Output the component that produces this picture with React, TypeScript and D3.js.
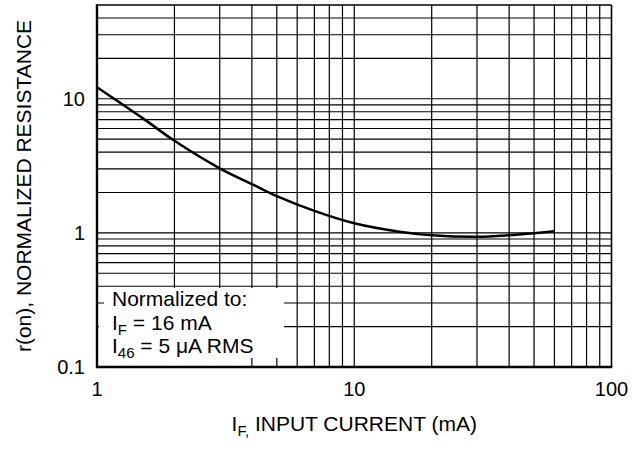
import React from "react";
import * as d3 from "d3";

// I_F (mA) vs normalized r(on)
const inputCurrent = [1, 1.5, 2, 3, 4, 5, 7, 10, 15, 20, 30, 40, 50, 60];
const resistance = [12.2, 7.2, 4.86, 3.03, 2.31, 1.88, 1.46, 1.18, 1.02, 0.96, 0.935, 0.96, 0.995, 1.03];

const xTicks = [1, 10, 100];
const yTicks = [0.1, 1, 10];
const xGrid = [2, 3, 4, 5, 6, 7, 8, 9, 10, 20, 30, 40, 50, 60, 70, 80, 90];
const yGrid = [0.2, 0.3, 0.4, 0.5, 0.6, 0.7, 0.8, 0.9, 1, 2, 3, 4, 5, 6, 7, 8, 9, 10, 20, 30, 40];

const FONT = "'Liberation Sans', Arial, Helvetica, sans-serif";

export default function App() {
	const width = 633;
	const height = 450;
	const left = 97;
	const right = 611.5;
	const top = 5;
	const bottom = 367;

	const x = d3.scaleLog().domain([1, 100]).range([left, right]);
	const y = d3.scaleLog().domain([0.1, 50]).range([bottom, top]);

	const line = d3
		.line<number>()
		.x((_, i) => x(inputCurrent[i]))
		.y((d) => y(d))
		.curve(d3.curveCatmullRom);

	return (
		<svg
			width={width}
			height={height}
			style={{ position: "absolute", left: 0, top: 0, background: "#fff" }}
			fontFamily={FONT}
		>
			{/* grid */}
			<g stroke="#000" strokeWidth={1.2}>
				{xGrid.map((v) => (
					<line key={"x" + v} x1={x(v)} x2={x(v)} y1={top} y2={bottom} />
				))}
				{yGrid.map((v) => (
					<line key={"y" + v} x1={left} x2={right} y1={y(v)} y2={y(v)} />
				))}
			</g>

			{/* white label box covering the grid */}
			<g fill="#fff">
				<rect x={104} y={288} width={180} height={30} />
				<rect x={99} y={318} width={185} height={40} />
				<rect x={99} y={355} width={146} height={11} />
			</g>

			{/* frame */}
			<g stroke="#000" fill="none">
				<line x1={left} x2={right} y1={top} y2={top} strokeWidth={1.6} />
				<line x1={right} x2={right} y1={top} y2={bottom} strokeWidth={1.6} />
				<line x1={left} x2={left} y1={top - 0.8} y2={bottom + 1} strokeWidth={2.4} />
				<line x1={left - 1} x2={right + 0.8} y1={bottom} y2={bottom} strokeWidth={2.4} />
			</g>

			{/* curve */}
			<path d={line(resistance) ?? ""} fill="none" stroke="#000" strokeWidth={2.5} />

			{/* tick labels */}
			<g fontSize={20} fill="#000">
				{yTicks.map((v) => (
					<text key={"yt" + v} x={85} y={y(v)} dy="0.35em" textAnchor="end">
						{v}
					</text>
				))}
				{xTicks.map((v) => (
					<text key={"xt" + v} x={x(v)} y={395.5} textAnchor="middle">
						{v}
					</text>
				))}
			</g>

			{/* axis titles */}
			<text
				transform={`translate(31,${(top + bottom) / 2}) rotate(-90)`}
				textAnchor="middle"
				fontSize={21}
			>
				r(on), NORMALIZED RESISTANCE
			</text>
			<text x={(left + right) / 2} y={431} textAnchor="middle" fontSize={21}>
				I
				<tspan fontSize={15} dy={5}>
					F,
				</tspan>
				<tspan dy={-5}> INPUT CURRENT (mA)</tspan>
			</text>

			{/* normalization note */}
			<g fontSize={21}>
				<text x={112} y={306}>
					Normalized to:
				</text>
				<text x={112} y={330}>
					I
					<tspan fontSize={15} dy={5}>
						F
					</tspan>
					<tspan dy={-5}> = 16 mA</tspan>
				</text>
				<text x={112} y={353}>
					I
					<tspan fontSize={15} dy={5}>
						46
					</tspan>
					<tspan dy={-5}> = 5 μA RMS</tspan>
				</text>
			</g>
		</svg>
	);
}
